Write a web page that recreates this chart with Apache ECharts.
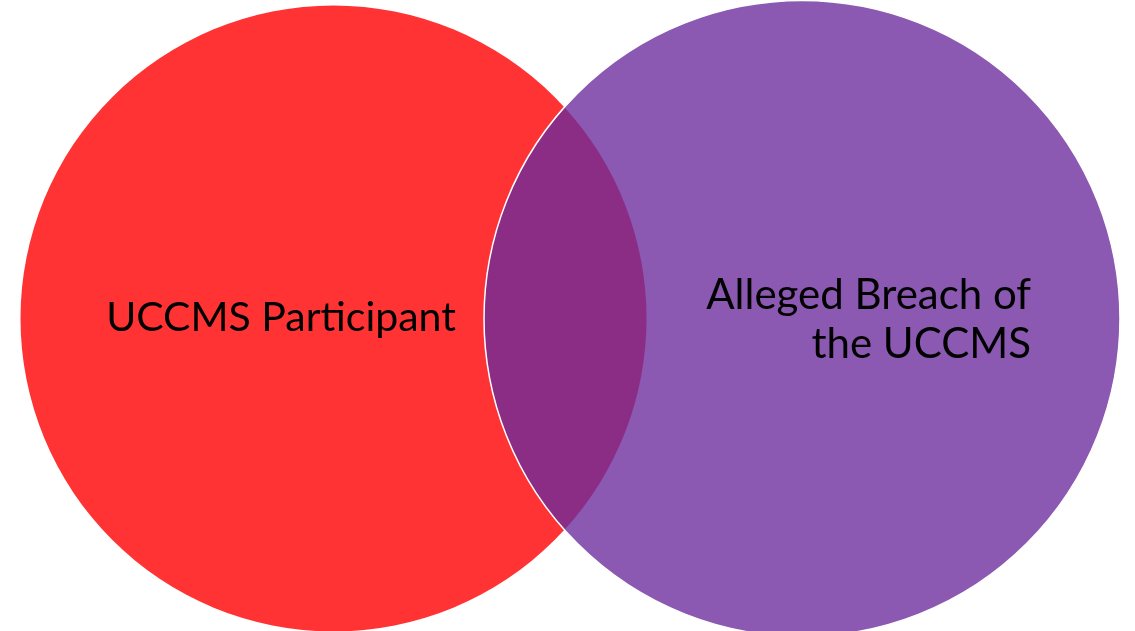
<!DOCTYPE html>
<html>
<head>
<meta charset="utf-8">
<script src="https://cdn.jsdelivr.net/npm/echarts@6/dist/echarts.min.js"></script>
<style>
  html, body { margin: 0; padding: 0; background: #fff; }
  #chart { width: 1135px; height: 631px; }
</style>
</head>
<body>
<div id="chart"></div>
<script>
// sets of the diagram (centre x, centre y, radius in plot units)
const setNames = ['UCCMS Participant', 'Alleged Breach of\nthe UCCMS']
const centerX = [333.5, 802]
const centerY = [318.5, 318.5]
const radius = [313, 318]
const setColors = ['#ff3333', '#8b58b2']
const overlapColor = '#8b2d85'

const chart = echarts.init(document.getElementById('chart'))

const circleData = setNames.map((n, i) => [centerX[i], centerY[i], radius[i], i])

function toPx(api, i) {
  const c = api.coord([centerX[i], centerY[i]])
  const r = api.size([radius[i], radius[i]])[0]
  return { x: c[0], y: c[1], r: r }
}

chart.setOption({
  animation: false,
  grid: { left: 0, right: 0, top: 0, bottom: 0 },
  xAxis: { type: 'value', min: 0, max: 1135, show: false },
  yAxis: { type: 'value', min: 0, max: 631, inverse: true, show: false },
  series: [
    {
      type: 'custom',
      coordinateSystem: 'cartesian2d',
      data: circleData,
      renderItem: function (params, api) {
        const i = api.value(3)
        const p = toPx(api, i)
        return {
          type: 'circle',
          shape: { cx: p.x, cy: p.y, r: p.r },
          style: { fill: setColors[i] }
        }
      }
    },
    {
      // overlap lens, built from the two circles
      type: 'custom',
      coordinateSystem: 'cartesian2d',
      data: [[0, 1]],
      renderItem: function (params, api) {
        const a = toPx(api, 0)
        const b = toPx(api, 1)
        const dx = b.x - a.x, dy = b.y - a.y
        const d = Math.sqrt(dx * dx + dy * dy)
        const l = (a.r * a.r - b.r * b.r + d * d) / (2 * d)
        const h = Math.sqrt(a.r * a.r - l * l)
        const mx = a.x + l * dx / d, my = a.y + l * dy / d
        const p1 = [mx + h * dy / d, my - h * dx / d]
        const p2 = [mx - h * dy / d, my + h * dx / d]
        const path = 'M' + p1[0] + ' ' + p1[1] +
          ' A' + a.r + ' ' + a.r + ' 0 0 1 ' + p2[0] + ' ' + p2[1] +
          ' A' + b.r + ' ' + b.r + ' 0 0 1 ' + p1[0] + ' ' + p1[1] + ' Z'
        return {
          type: 'group',
          children: [
            {
              type: 'path',
              shape: { pathData: path },
              style: { fill: overlapColor }
            },
            {
              type: 'circle',
              shape: { cx: b.x, cy: b.y, r: b.r },
              style: { fill: 'none', stroke: '#ffffff', lineWidth: 1.5 }
            }
          ]
        }
      }
    },
    {
      // set labels
      type: 'custom',
      coordinateSystem: 'cartesian2d',
      data: circleData,
      z: 5,
      renderItem: function (params, api) {
        const i = api.value(3)
        const pos = i === 0 ? api.coord([281, 318]) : api.coord([1031, 320])
        return {
          type: 'text',
          x: pos[0],
          y: pos[1],
          style: {
            text: setNames[i],
            fill: '#000',
            font: (i === 0 ? 41 : 42) + 'px Lato',
            align: i === 0 ? 'center' : 'right',
            verticalAlign: 'middle',
            lineHeight: 49
          }
        }
      }
    }
  ]
})
</script>
</body>
</html>
